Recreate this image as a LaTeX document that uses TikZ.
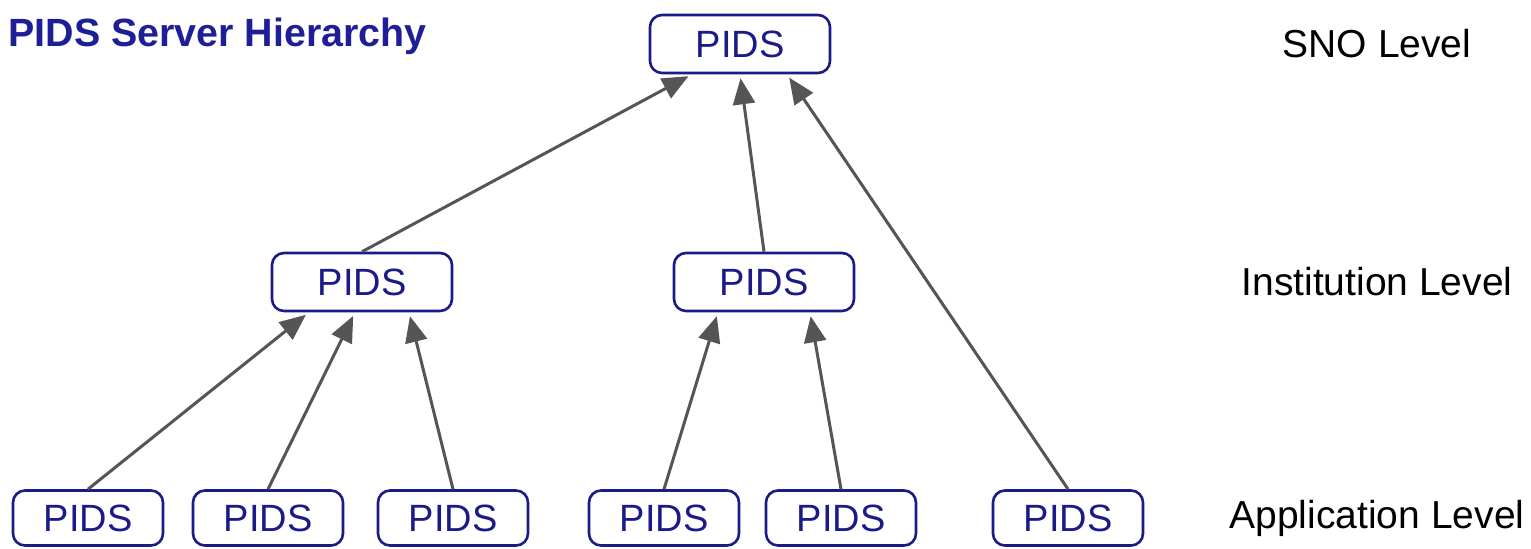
\documentclass[tikz,border=0pt]{standalone}
\usepackage{fontspec}
\setmainfont{Liberation Sans}
\usetikzlibrary{arrows.meta,positioning}
\definecolor{pidsblue}{HTML}{1A1A88}
\definecolor{titleblue}{HTML}{1E1E96}
\definecolor{linkgray}{HTML}{555555}

\begin{document}
\begin{tikzpicture}[x=0.5pt,y=-0.5pt,
                    >={Triangle[length=13pt,width=11pt]},
                    pids/.style={draw=pidsblue, line width=1.3pt, rounded corners=6pt,
                        text=pidsblue, font=\fontsize{19}{19}\selectfont,
                        minimum width=90pt, minimum height=29pt, inner sep=0pt},
                    app/.style={pids, minimum width=75pt, minimum height=27.5pt},
                    lvl/.style={font=\fontsize{19.5}{20}\selectfont, inner sep=0pt},
                    link/.style={->, draw=linkgray, line width=1.5pt, shorten >=2pt}]

                \useasboundingbox (0,0) rectangle (1531,548);

                \draw(8,36) node[anchor=west, inner sep=0pt, text=titleblue,
                    font=\fontsize{19.7}{20}\bfseries] (T) {PIDS Server Hierarchy};

                % levels
                \draw(740,44) node[pids] (S) {PIDS};
                \draw(362,282) node[pids] (I1) {PIDS};
                \draw(764,282) node[pids] (I2) {PIDS};
                \draw(88,518) node[app] (A1) {PIDS};
                \draw(268,518) node[app] (A2) {PIDS};
                \draw(453,518) node[app] (A3) {PIDS};
                \draw(664,518) node[app] (A4) {PIDS};
                \draw(841,518) node[app] (A5) {PIDS};
                \draw(1068,518) node[app] (A6) {PIDS};

                \draw(1377,44) node[lvl] (LS) {SNO Level};
                \draw(1377,282) node[lvl] (LI) {Institution Level};
                \draw(1377,518) node[lvl] (LA) {Application Level};

                \draw[link] (I1.north) to ([xshift=-24pt]S.south);
                \draw[link] (I2.north) to (S.south);
                \draw[link] (A6.north) to ([xshift=23.5pt]S.south);
                \draw[link] (A1.north) to ([xshift=-26.5pt]I1.south);
                \draw[link] (A2.north) to ([xshift=-3.5pt]I1.south);
                \draw[link] (A3.north) to ([xshift=23.5pt]I1.south);
                \draw[link] (A4.north) to ([xshift=-23pt]I2.south);
                \draw[link] (A5.north) to ([xshift=23pt]I2.south);

            \end{tikzpicture}
\end{document}
